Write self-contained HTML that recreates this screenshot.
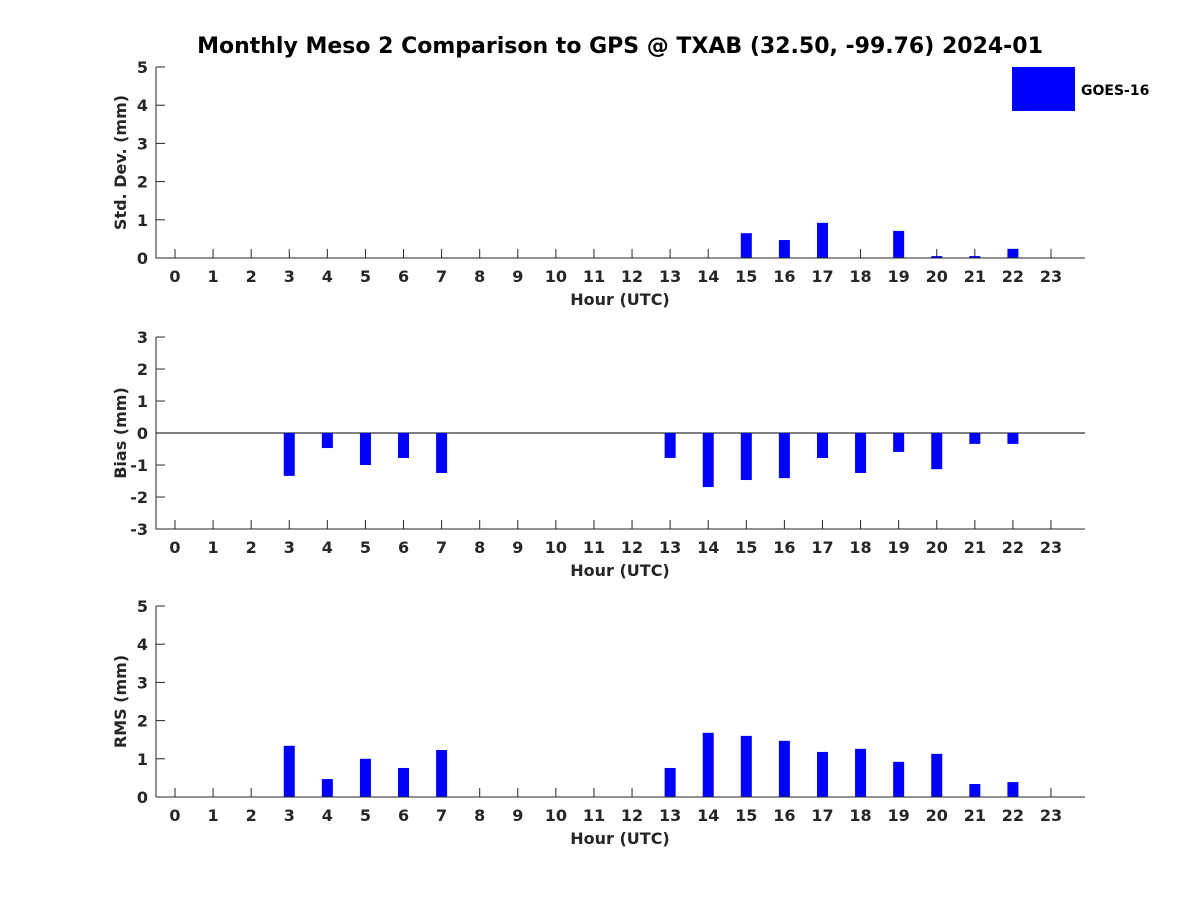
<!DOCTYPE html>
<html><head><meta charset="utf-8"><style>
body{margin:0;background:#fff}
text{font-family:"DejaVu Sans","Liberation Sans",sans-serif;font-weight:bold;fill:#262626}
</style></head><body>
<svg width="1200" height="900" xmlns="http://www.w3.org/2000/svg">
<rect width="1200" height="900" fill="#fff"/>
<text x="620" y="53" text-anchor="middle" font-size="22" style="fill:#000">Monthly Meso 2 Comparison to GPS @ TXAB (32.50, -99.76) 2024-01</text>
<g id="plots"></g>
<rect x="1012" y="67" width="63" height="44" fill="#0000ff"/>
<text x="1081" y="95" font-size="14" style="fill:#000">GOES-16</text>
</svg>
<script>
const hours=[0,1,2,3,4,5,6,7,8,9,10,11,12,13,14,15,16,17,18,19,20,21,22,23];
const stdVals=[null,null,null,null,null,null,null,null,null,null,null,null,null,null,null,0.65,0.47,0.92,null,0.71,0.05,0.05,0.24,null];
const biasVals=[null,null,null,-1.34,-0.47,-1.0,-0.78,-1.25,null,null,null,null,null,-0.78,-1.69,-1.47,-1.41,-0.78,-1.25,-0.59,-1.13,-0.34,-0.34,null];
const rmsVals=[null,null,null,1.34,0.47,1.0,0.76,1.23,null,null,null,null,null,0.76,1.68,1.6,1.47,1.18,1.26,0.92,1.13,0.34,0.39,null];
const stdTicks=[0,1,2,3,4,5];
const biasTicks=[-3,-2,-1,0,1,2,3];
const rmsTicks=[0,1,2,3,4,5];
const NS="http://www.w3.org/2000/svg";
const g=document.getElementById('plots');
const X0=156,X1=1085;
function xs(h){return 175+h*(1051-175)/23;}
function mk(tag,attrs,parent){const e=document.createElementNS(NS,tag);for(const k in attrs)e.setAttribute(k,attrs[k]);(parent||g).appendChild(e);return e;}
function panel(name,top,bot,ymin,ymax,ticks,vals,label,zeroLine){
  const ys=v=>bot-(v-ymin)/(ymax-ymin)*(bot-top);
  const grp=mk('g',{});
  
  
  hours.forEach(h=>{const t=mk('line',{x1:xs(h),x2:xs(h),y1:bot,y2:bot-9,stroke:'#262626','stroke-width':1},grp);
    
    
    const l=mk('text',{x:xs(h),y:bot+24,'text-anchor':'middle','font-size':16},grp);l.textContent=h;
    
    });
  ticks.forEach(v=>{const t=mk('line',{x1:X0,x2:X0+9,y1:ys(v),y2:ys(v),stroke:'#262626','stroke-width':1},grp);
    
    
    const l=mk('text',{x:X0-8,y:ys(v)+6,'text-anchor':'end','font-size':16},grp);l.textContent=v;
    
    });
  if(zeroLine){const z=mk('line',{x1:X0,x2:X1,y1:ys(0),y2:ys(0),stroke:'#000','stroke-width':1},grp);
    
    }
  vals.forEach((v,i)=>{if(v===null)return;const y0=ys(0),y1=ys(v);
    const b=mk('rect',{x:xs(hours[i])-5.5,y:Math.min(y0,y1),width:11,height:Math.abs(y1-y0),fill:'#0000ff'},grp);
    
    });
  const ax=mk('path',{d:`M${X0} ${top}V${bot}H${X1}`,fill:'none',stroke:'#262626','stroke-width':1},grp);
  
  
  const xl=mk('text',{x:620,y:bot+47,'text-anchor':'middle','font-size':16},grp);xl.textContent='Hour (UTC)';
  
  
  const yl=mk('text',{x:0,y:0,'text-anchor':'middle','font-size':16,transform:`translate(126,${(top+bot)/2}) rotate(-90)`},grp);yl.textContent=label;
  
  
}
panel('std-dev',67,258,0,5,stdTicks,stdVals,'Std. Dev. (mm)',false);
panel('bias',337,529,-3,3,biasTicks,biasVals,'Bias (mm)',true);
panel('rms',606,797,0,5,rmsTicks,rmsVals,'RMS (mm)',false);
</script>
</body></html>
